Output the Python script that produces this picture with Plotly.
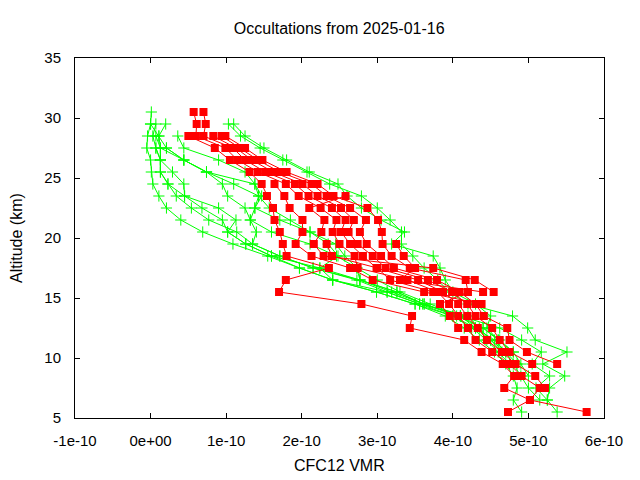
import plotly.graph_objects as go

# ---------------- data (VMR in units of 1e-10) ----------------
SCALE = 1e-10
ALT = [30.5, 29.5, 28.5, 27.5, 26.5, 25.5, 24.5, 23.5, 22.5, 21.5, 20.5, 19.5, 18.5,
       17.5, 16.5, 15.5, 14.5, 13.5, 12.5, 11.5, 10.5, 9.5, 8.5, 7.5, 6.5, 5.5]

# green profiles: (top altitude, values from top downward)
green_g1 = (30.5, [0.01, 0.00, -0.04, -0.05, 0.00, 0.01, 0.03, 0.11, 0.21, 0.40, 0.69, 1.09, 1.55,
                   1.97, 2.41, 2.99, 3.50, 3.90, 4.15, 4.35, 4.55, 4.70, 4.80, 4.85, 4.80, 4.91])
green_g2 = (29.5, [0.07, 0.03, 0.07, 0.13, 0.13, 0.23, 0.34, 0.54, 0.77, 1.14, 1.35, 1.71, 2.15,
                   2.73, 3.13, 3.56, 4.00, 4.30, 4.55, 4.70, 4.80, 4.90, 5.00, 5.15])
green_g3 = (29.5, [0.20, 0.11, 0.13, 0.13, 0.29, 0.44, 0.45, 0.68, 0.95, 1.02, 1.26, 1.60, 2.24,
                   2.77, 3.19, 3.62, 4.05, 4.40, 4.62, 4.80])
green_g4 = (28.5, [0.36, 0.44, 0.90, 1.25, 1.38, 1.43, 1.57, 1.85, 2.11, 2.45, 2.57, 2.73, 2.77,
                   3.26, 3.60, 4.10, 4.30, 4.50, 4.70, 4.85])
green_g5 = (27.5, [0.21, 0.44, 0.74, 0.95, 1.02, 1.25, 1.32, 1.60, 2.11, 2.46, 2.73, 3.00, 3.30,
                   3.70, 4.10, 4.40, 4.60])
green_g6 = (29.5, [1.03, 1.19, 1.45, 1.75, 2.07, 2.37, 2.79, 3.00, 3.17, 3.32, 3.32, 3.47, 3.62,
                   3.80, 3.95, 4.20, 4.79, 4.99, 5.09, 5.51, 5.19, 5.48, 5.28, 5.25, 5.38])
green_g7 = (29.5, [1.10, 1.25, 1.50, 1.80, 2.10, 2.48, 2.60, 2.79, 3.05, 3.36, 3.19, 3.74, 3.83,
                   3.90, 4.00, 4.30, 4.50, 4.45, 4.60, 4.80, 4.90, 5.00])
green_g8 = (28.5, [0.07, 0.13, 0.44, 0.74, 1.10, 1.43, 1.38, 1.71, 2.11, 2.35, 2.48, 2.24, 2.41,
                   3.13, 3.56, 4.20, 4.35, 4.50, 4.65])
green_g9 = (27.5, [0.07, 0.13, 0.13, 0.23, 0.45, 0.90, 1.13, 1.02, 1.26, 1.60, 1.97, 2.41, 2.99,
                   3.50, 4.00, 4.25, 4.45, 4.60, 4.75])
green_g10 = (29.5, [0.00, 0.11, 0.21, 0.44, 0.74, 1.38, 1.47, 1.38, 1.32, 1.40, 1.35, 1.71, 2.15,
                    2.77, 3.26, 3.62, 4.10, 4.62, 4.91, 5.17, 5.05, 5.28, 5.10, 5.25])

# red profiles
red_a = (30.5, [0.57, 0.61, 0.60, 0.99, 1.15, 1.42, 1.79, 1.96, 2.25, 2.46, 2.41, 2.50, 2.70,
                2.74, 3.40, 3.80, 3.95, 4.07, 4.20, 4.30, 4.52, 4.75, 4.91, 5.15, 5.02, 5.77])
red_b = (30.5, [0.70, 0.73, 0.70, 1.09, 1.25, 1.52, 1.91, 2.09, 2.40, 2.58, 2.52, 2.64, 2.81,
                2.99, 3.54, 3.87, 4.07, 4.19, 4.33, 4.45, 4.65, 4.83, 5.09, 5.22])
red_c = (28.5, [0.50, 0.85, 1.05, 1.31, 1.47, 1.54, 1.62, 1.64, 1.71, 1.75, 1.80, 2.36, 1.79,
                1.70, 2.79, 3.46, 3.43, 4.15, 4.38, 4.66, 4.81, 4.68, 5.02, 4.73])
red_d = (28.5, [0.83, 1.13, 1.34, 1.62, 2.01, 2.21, 2.52, 2.69, 2.62, 2.74, 2.94, 3.11, 3.67,
                3.99, 4.19, 4.30, 4.52, 4.62, 4.75, 5.05])
red_e = (28.5, [0.94, 1.18, 1.42, 1.71, 2.13, 2.33, 2.64, 2.85, 2.77, 2.86, 3.05, 3.22, 3.79,
                4.09, 4.30, 4.41, 4.72, 4.75, 4.98, 5.38])
red_f = (28.5, [0.99, 1.25, 1.48, 1.80, 2.21, 2.42, 2.87, 3.01, 3.06, 3.07, 3.19, 3.43, 4.17,
                4.20, 3.83, 3.96, 4.07])
red_g = (24.5, [1.64, 1.77, 1.84, 2.01, 2.01, 1.92, 2.13, 2.64, 2.94, 3.62, 4.38])
red_h = (23.5, [2.58, 2.10, 2.30, 2.26, 2.16, 2.29, 3.74, 4.29, 4.54])
red_i = (19.5, [2.33, 2.40, 3.00, 3.17, 3.74])
red_j = (19.5, [3.25, 3.35, 3.50, 3.30, 4.40])

GREEN_PROFILES = [green_g1, green_g2, green_g3, green_g4, green_g5,
                  green_g6, green_g7, green_g8, green_g9, green_g10]
RED_PROFILES = [red_a, red_b, red_c, red_d, red_e, red_f, red_g, red_h, red_i, red_j]

X_TICKS = [-1, 0, 1, 2, 3, 4, 5, 6]
X_TICK_TEXT = ["-1e-10", "0e+00", "1e-10", "2e-10", "3e-10", "4e-10", "5e-10", "6e-10"]
Y_TICKS = [5, 10, 15, 20, 25, 30, 35]

TITLE = "Occultations from 2025-01-16"
XLABEL = "CFC12 VMR"
YLABEL = "Altitude (km)"

GREEN = "#00ff00"
RED = "#ff0000"
FONT = "Liberation Sans, Arial, sans-serif"


def profile_xy(p):
    top, vals = p
    i0 = ALT.index(top)
    alts = ALT[i0:i0 + len(vals)]
    return [v * SCALE for v in vals], alts


fig = go.Figure()
for p in GREEN_PROFILES:
    x, y = profile_xy(p)
    fig.add_trace(go.Scatter(
        x=x, y=y, mode="lines+markers", showlegend=False,
        line=dict(color=GREEN, width=1),
        marker=dict(symbol="cross-thin", size=8, color=GREEN,
                    line=dict(color=GREEN, width=1))))
for p in RED_PROFILES:
    x, y = profile_xy(p)
    fig.add_trace(go.Scatter(
        x=x, y=y, mode="lines+markers", showlegend=False,
        line=dict(color=RED, width=1),
        marker=dict(symbol="square", size=8, color=RED, line=dict(width=0))))

axis_common = dict(showline=True, linecolor="black", linewidth=1, mirror="ticks",
                   ticks="inside", ticklen=5, tickcolor="black", tickwidth=1,
                   showgrid=False, zeroline=False,
                   tickfont=dict(family=FONT, size=15, color="black"))

fig.update_layout(
    width=640, height=480,
    margin=dict(l=75, r=36, t=58, b=62),
    paper_bgcolor="white", plot_bgcolor="white",
    title=dict(text=TITLE, x=0.53, xanchor="center", y=1 - 28 / 480, yanchor="middle",
               font=dict(family=FONT, size=16, color="black")),
    xaxis=dict(range=[-1 * SCALE, 6 * SCALE],
               tickvals=[t * SCALE for t in X_TICKS], ticktext=X_TICK_TEXT,
               ticklabelstandoff=9, **axis_common),
    yaxis=dict(range=[5, 35], tickvals=Y_TICKS, ticklabelstandoff=10, **axis_common),
    annotations=[
        dict(text=XLABEL, xref="paper", yref="paper", x=0.5, y=(418 - 465) / 360,
             xanchor="center", yanchor="middle", showarrow=False,
             font=dict(family=FONT, size=16, color="black")),
        dict(text=YLABEL, xref="paper", yref="paper", x=(16 - 75) / 529, y=0.5,
             xanchor="center", yanchor="middle", showarrow=False, textangle=-90,
             font=dict(family=FONT, size=16, color="black")),
    ],
)

fig.write_html("out.html")
